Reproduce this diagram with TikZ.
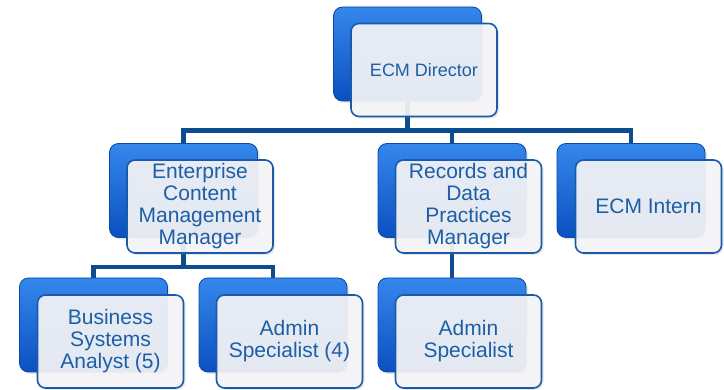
\documentclass[tikz,border=0pt]{standalone}
\usepackage{fontspec}
\setmainfont{Liberation Sans}
\usetikzlibrary{shadows,backgrounds}

\definecolor{wireBlue}{HTML}{0F4C8F}
\definecolor{boxTop}{HTML}{3587EC}
\definecolor{boxBot}{HTML}{0B50C0}
\definecolor{boxEdge}{HTML}{0A47A6}
\definecolor{cardFill}{HTML}{F5F5F7}
\definecolor{cardEdge}{HTML}{1A5AAA}
\definecolor{cardText}{HTML}{1D5FA6}

\begin{document}
\begin{tikzpicture}[x=1pt, y=-1pt,
    back/.style={rounded corners=9pt, minimum width=148pt, minimum height=94pt,
        draw=boxEdge, line width=0.8pt, top color=boxTop, bottom color=boxBot,
        drop shadow={opacity=0.2, shadow xshift=2pt, shadow yshift=-2pt}},
    card/.style={rounded corners=8pt, minimum width=146pt, minimum height=93pt,
        inner sep=2pt, draw=cardEdge, line width=1.6pt, fill=cardFill, fill opacity=0.92,
        text opacity=1, text=cardText, align=center, font=\fontsize{21}{22}\selectfont,
        drop shadow={opacity=0.18, shadow xshift=2pt, shadow yshift=-2pt}},
    wire/.style={draw=wireBlue, line width=4.5pt}]
    \useasboundingbox (0,0) rectangle (724,390);

    % Level 1
    \node[back] (dirB) at (407.5,54) {};
    \node[card, font=\fontsize{18}{21}\selectfont] (dir) at (424,70) {ECM Director};

    % Level 2
    \node[back] (ecmB) at (183.5,190.5) {};
    \node[card] (ecm) at (200,206.5) {Enterprise\\Content\\Management\\Manager};
    \node[back] (recB) at (452,190.5) {};
    \node[card] (rec) at (468.5,206.5) {Records and\\Data\\Practices\\Manager};
    \node[back] (intB) at (631,190.5) {};
    \node[card] (int) at (648.5,206.5) {ECM Intern};

    % Level 3
    \node[back] (bsaB) at (93.5,325) {};
    \node[card] (bsa) at (110.5,341.5) {Business\\Systems\\Analyst (5)};
    \node[back] (admFB) at (273,325) {};
    \node[card] (admF) at (289.5,341.5) {Admin\\Specialist (4)};
    \node[back] (admB) at (452,325) {};
    \node[card] (adm) at (468.5,341.5) {Admin\\Specialist};

    % Connectors, kept behind the boxes
    \coordinate (busA) at (0,130.5);
    \coordinate (busB) at (0,267);
    \begin{pgfonlayer}{background}
        \draw[wire] (dirB.center) -- (dirB.center |- busA);
        \draw[wire] (ecmB.north) |- (dirB.center |- busA) -| (intB.north);
        \draw[wire] (recB.north) -- (recB.north |- busA);
        \draw[wire] (ecmB.center) -- (ecmB.center |- busB);
        \draw[wire] (bsaB.north) |- (ecmB.center |- busB) -| (admFB.north);
        \draw[wire] (recB.center) -- (admB.north);
    \end{pgfonlayer}
\end{tikzpicture}
\end{document}
